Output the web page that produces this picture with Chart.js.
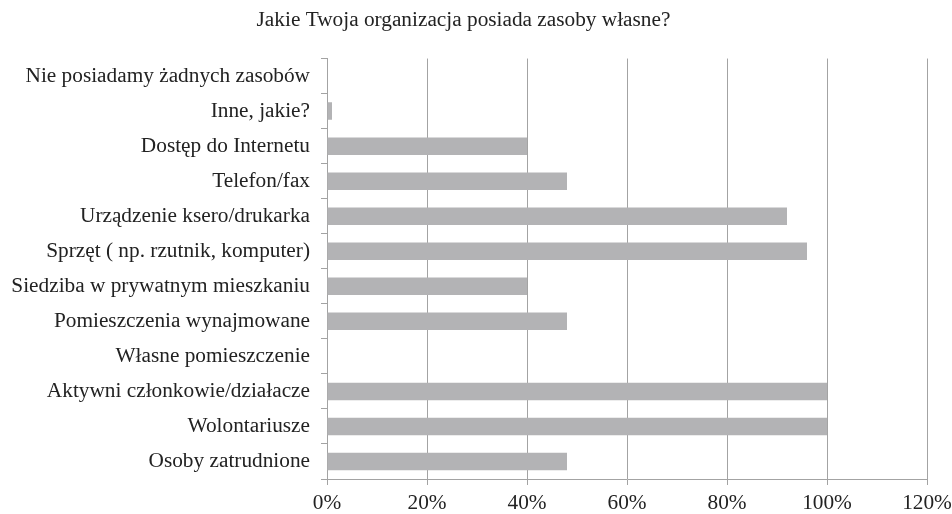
<!DOCTYPE html>
<html>
<head>
<meta charset="utf-8">
<script src="https://cdn.jsdelivr.net/npm/chart.js@4/dist/chart.umd.min.js"></script>
<style>
  html, body { margin: 0; padding: 0; background: #fff; }
  #wrap { width: 952px; height: 514px; position: relative; }
</style>
</head>
<body>
<div id="wrap"><canvas id="chart"></canvas></div>
<script>
const chartTitle = "Jakie Twoja organizacja posiada zasoby własne?"

const categories = [
  "Nie posiadamy żadnych zasobów",
  "Inne, jakie?",
  "Dostęp do Internetu",
  "Telefon/fax",
  "Urządzenie ksero/drukarka",
  "Sprzęt ( np. rzutnik, komputer)",
  "Siedziba w prywatnym mieszkaniu",
  "Pomieszczenia wynajmowane",
  "Własne pomieszczenie",
  "Aktywni członkowie/działacze",
  "Wolontariusze",
  "Osoby zatrudnione"
]

// percent of organisations
const shares = [0, 1, 40, 48, 92, 96, 40, 48, 0, 100, 100, 48]

const xTicks = [0, 20, 40, 60, 80, 100, 120]

const textColor = "#222222"
const lineColor = "#a3a3a3"
const fontFamily = "'Liberation Serif', 'Times New Roman', serif"
const fontSize = 21.3

const ctx = document.getElementById("chart").getContext("2d")

new Chart(ctx, {
  type: "bar",
  data: {
    labels: categories,
    datasets: [{
      data: shares,
      backgroundColor: "#b3b3b5",
      borderWidth: 0,
      categoryPercentage: 1,
      barPercentage: 0.5
    }]
  },
  options: {
    indexAxis: "y",
    responsive: true,
    maintainAspectRatio: false,
    animation: false,
    layout: { padding: { left: 0, right: 25, top: 0, bottom: 0 } },
    plugins: {
      legend: { display: false },
      tooltip: { enabled: false },
      title: {
        display: true,
        text: chartTitle,
        color: textColor,
        font: { family: fontFamily, size: fontSize, weight: "normal" },
        padding: { top: 8, bottom: 25 }
      }
    },
    scales: {
      x: {
        min: xTicks[0],
        max: xTicks[xTicks.length - 1],
        afterBuildTicks: (scale) => { scale.ticks = xTicks.map(v => ({ value: v })) },
        // fixed axis height, and the last label may hang into the right margin
        afterFit: (scale) => {
          scale.height = 35
          scale.paddingRight = 0
          scale.paddingLeft = 0
        },
        ticks: {
          color: textColor,
          font: { family: fontFamily, size: fontSize, lineHeight: 1 },
          padding: 7.5,
          callback: (v) => v + "%"
        },
        grid: { color: lineColor, tickLength: 6, lineWidth: 1 },
        border: { color: lineColor }
      },
      y: {
        afterFit: (scale) => {
          scale.width = 327
          scale.paddingTop = 0
          scale.paddingBottom = 0
        },
        ticks: {
          color: textColor,
          font: { family: fontFamily, size: fontSize },
          padding: 11,
          autoSkip: false
        },
        grid: { color: lineColor, drawOnChartArea: false, tickLength: 6, offset: true },
        border: { color: lineColor }
      }
    }
  }
})
</script>
</body>
</html>
